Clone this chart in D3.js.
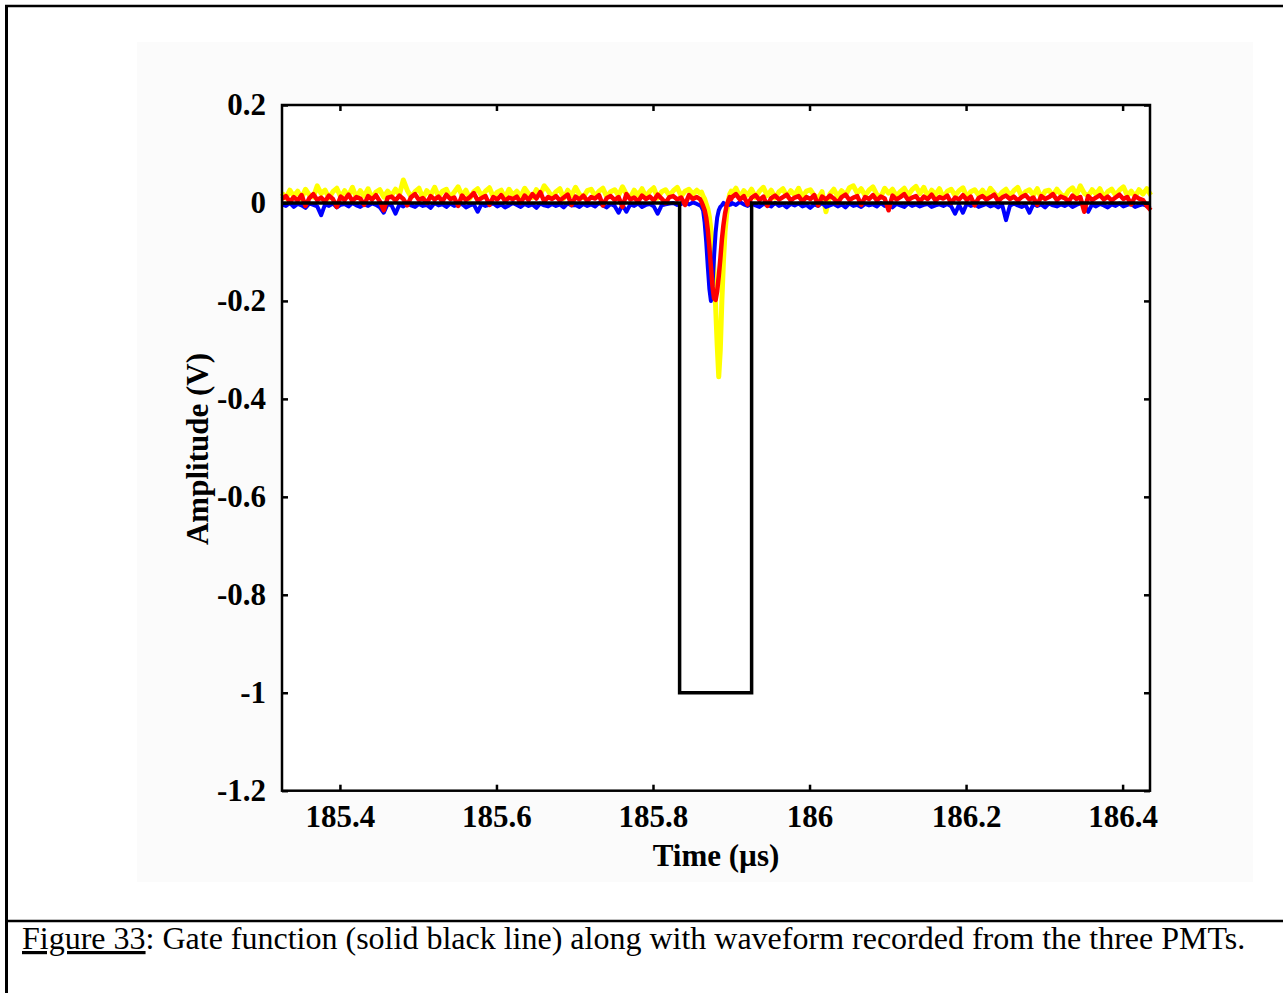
<!DOCTYPE html>
<html>
<head>
<meta charset="utf-8">
<script src="https://cdn.jsdelivr.net/npm/d3@7"></script>
<style>
  body { margin: 0; background: #fff; }
  svg { display: block; }
</style>
</head>
<body>
<svg width="1283" height="993"></svg>
<script>
// x axis ticks (time, µs) and y axis ticks (amplitude, V)
var xTicks = [185.4, 185.6, 185.8, 186, 186.2, 186.4];
var yTicks = [0.2, 0, -0.2, -0.4, -0.6, -0.8, -1, -1.2];

// scope samples: first time and spacing of the record (µs)
var sampleStart = 185.326;
var sampleStep = 0.005;

// baseline noise of each PMT, mV
var yellowMv = [
  20, 10, 26, 14, 24, 9, 28, 16, 12, 35,
  19, 26, 10, 23, 30, 12, 25, 15, 32, 11,
  25, 14, 29, 9, 22, 27, 12, 24, 15, 28,
  17, 47, 26, 12, 23, 30, 10, 25, 16, 32,
  13, 24, 28, 11, 22, 33, 15, 26, 9, 23,
  29, 14, 24, 31, 12, 22, 26, 10, 28, 16,
  24, 13, 30, 19, 11, 27, 16, 35, 25, 12,
  23, 29, 9, 26, 15, 32, 18, 11, 25, 28,
  14, 24, 30, 12, 23, 27, 15, 33, 18, 11,
  26, 16, 29, 13, 24, 31, 10, 23, 27, 15,
  25, 32, 14, 24, 28, 18, 26, 15, 20, 16,
  18, 22, 16, 20, 24, 19, 30, 12, 25, 16,
  28, 11, 24, 32, 15, 26, 10, 23, 29, 14,
  25, 16, 30, 12, 24, 27, 15, 9, 23, -18,
  18, 28, 13, 25, 16, 31, 35, 20, 29, 15,
  26, 33, 17, 12, 30, 20, 28, 14, 23, 30,
  16, 27, 34, 19, 32, 13, 26, 17, 29, 11,
  24, 28, 15, 25, 31, 12, 23, 27, 16, 26,
  14, 30, 20, 11, 22, 28, 15, 25, 32, 13,
  23, 27, 16, 29, 10, 24, 26, 15, 28, 18,
  12, 25, 31, 16, 35, 20, 14, 27, 18, 29,
  11, 23, 28, 16, 26, 33, 15, 24, 13, 27,
  18, 29, 16
];
var redMv = [
  8, 14, 2, 12, 5, 16, -6, 10, 18, 6,
  11, 3, 15, 8, -8, 13, 6, 17, 4, 12,
  9, -4, 14, 7, 16, 3, -15, 11, 13, 5,
  15, 8, -5, 12, 18, 6, 10, 0, 14, 7,
  13, 3, 17, 8, 11, -6, 15, 6, 12, 20,
  5, 10, 14, -4, 12, 7, 16, 4, 11, 8,
  13, 0, 15, 6, 18, 9, 22, 3, 12, 8,
  14, 5, 11, 17, -4, 13, 7, 15, 4, 12,
  9, 16, -5, 10, 14, 6, 12, -8, 18, 7,
  11, 3, 15, 8, 13, 5, 17, 9, 0, 12,
  14, 7, 11, -4, 16, 8, 12, 6, 3, 1,
  10, 13, 5, 11, 15, 12, 18, 7, 14, -3,
  11, 16, 6, 13, -6, 10, 15, 7, 12, 17,
  5, 11, 14, 3, 12, 8, 16, -5, 13, 7,
  15, 9, 0, 12, 17, 6, 11, 14, -4, 12,
  8, 16, 5, 13, 9, -15, 15, 7, 12, 18,
  6, 11, 14, 3, 13, 8, 17, 5, 12, 9,
  15, 0, 11, 7, 16, 6, 13, -5, 10, 14,
  7, 12, 17, 4, 11, 15, 8, 13, 5, 12,
  16, 7, 11, -4, 14, 8, 12, 18, 6, 13,
  10, 3, 15, 8, 12, -18, 14, 6, 11, 16,
  7, 13, 5, 11, 17, 8, 12, -3, 14, 9,
  6, -6, -15
];
var blueMv = [
  -3, -6, 0, -8, -2, -5, -10, -1, -4, -7,
  -25, -3, -6, -1, -9, -4, -2, -7, 0, -5,
  -8, -3, -6, -1, -4, -9, -20, -2, -5, -22,
  -3, -7, -1, -5, -8, -2, -6, -4, -10, 0,
  -5, -3, -8, -1, -6, -4, -2, -9, -5, -3,
  -18, -2, -6, -4, -1, -7, -3, -9, -5, 0,
  -4, -8, -2, -6, -3, -10, -1, -5, -7, -2,
  -6, -3, -9, -1, -5, -4, -8, -2, -6, -3,
  -7, 0, -5, -9, -2, -6, -20, -4, -18, -3,
  -6, -1, -8, -4, -2, -7, -22, -5, -3, -1,
  0, -4, -2, 2, -3, 1, -2, 0, -5, -10,
  -5, -8, -3, -6, -2, 0, -4, 2, -3, -6,
  -1, -5, -8, -2, -4, -7, 0, -6, -3, -9,
  -2, -5, -1, -7, -4, -10, -3, -6, 0, -8,
  -5, -2, -7, -3, -9, -1, -6, -4, -8, -2,
  -5, -3, -7, 0, -6, -4, -9, -2, -5, -8,
  -1, -6, -3, -7, -4, -2, -8, -5, -3, -6,
  -2, -7, -22, -4, -20, -1, -6, -3, -8, -5,
  -2, -7, -4, -9, -3, -35, -6, -1, -5, -8,
  -4, -20, -2, -6, -3, -9, -1, -5, -7, -3,
  -6, -2, -8, -4, -1, -5, -18, -3, -7, -2,
  -5, -9, -3, -6, -1, -7, -4, -2, -8, -5,
  -3, -6, -4
];

// the pulse itself, sampled finer
var pulseTimes = [185.860, 185.862, 185.864, 185.866, 185.868, 185.870, 185.872,
  185.874, 185.876, 185.878, 185.880, 185.882, 185.884, 185.886, 185.888,
  185.890, 185.892, 185.894, 185.896, 185.898, 185.900];
var yellowPulseMv = [20, 22, 14, 8, -2, -12, -28, -55, -90, -140, -210, -290, -355,
  -300, -200, -120, -60, -25, 2, 18, 24];
var redPulseMv = [8, 2, -6, -15, -30, -55, -90, -130, -170, -195, -198, -180, -150,
  -115, -75, -45, -22, -6, 4, 12, 8];
var bluePulseMv = [-5, -8, -15, -40, -80, -130, -175, -200, -170, -110, -60, -30, -15,
  -8, -5, 0, -3, -5, 2, -4, -3];

// gate function (black)
var gateTimes = [185.326, 185.834, 185.926, 186.435];
var gateValues = [0, -1, 0, 0];

var svg = d3.select("svg");

var margin = {left: 282, right: 1150, top: 105, bottom: 790.7};

var x = d3.scaleLinear().domain([185.326, 186.435]).range([margin.left, margin.right]);
var y = d3.scaleLinear().domain([-1.2, 0.2]).range([margin.bottom, margin.top]);

// page frame
svg.append("rect").attr("x", 137).attr("y", 42).attr("width", 1116).attr("height", 840)
  .attr("fill", "#fbfbfb");
svg.append("line").attr("x1", 6.5).attr("x2", 6.5).attr("y1", 5).attr("y2", 993)
  .attr("stroke", "#000").attr("stroke-width", 3);
svg.append("line").attr("x1", 5).attr("x2", 1283).attr("y1", 6).attr("y2", 6)
  .attr("stroke", "#000").attr("stroke-width", 2.5);
svg.append("line").attr("x1", 5).attr("x2", 1283).attr("y1", 921).attr("y2", 921)
  .attr("stroke", "#000").attr("stroke-width", 2.5);

// plot area
svg.append("rect").attr("x", margin.left).attr("y", margin.top)
  .attr("width", margin.right - margin.left).attr("height", margin.bottom - margin.top)
  .attr("fill", "#fff");

function buildSeries(noise, pulse) {
  var pts = [];
  noise.forEach(function(v, i) {
    var t = sampleStart + i * sampleStep;
    if (t < pulseTimes[0] || t > pulseTimes[pulseTimes.length - 1]) pts.push([t, v / 1000]);
  });
  pulse.forEach(function(v, i) { pts.push([pulseTimes[i], v / 1000]); });
  pts.sort(function(a, b) { return a[0] - b[0]; });
  return pts;
}

var traces = [
  {color: "#ffff00", width: 5, data: buildSeries(yellowMv, yellowPulseMv)},
  {color: "#0000ff", width: 4, data: buildSeries(blueMv, bluePulseMv)},
  {color: "#ff0000", width: 4.5, data: buildSeries(redMv, redPulseMv)}
];

var line = d3.line()
  .x(function(d) { return x(d[0]); })
  .y(function(d) { return y(d[1]); });

var plot = svg.append("g");

plot.selectAll(".trace")
  .data(traces)
  .enter().append("path")
  .attr("class", "trace")
  .attr("d", function(d) { return line(d.data); })
  .attr("fill", "none")
  .attr("stroke", function(d) { return d.color; })
  .attr("stroke-width", function(d) { return d.width; })
  .attr("stroke-linejoin", "round");

var gateLine = d3.line()
  .x(function(d) { return x(d[0]); })
  .y(function(d) { return y(d[1]); })
  .curve(d3.curveStepAfter);

plot.append("path")
  .attr("d", gateLine(gateTimes.map(function(t, i) { return [t, gateValues[i]]; })))
  .attr("fill", "none")
  .attr("stroke", "#000")
  .attr("stroke-width", 3.5);

// axes, ticks pointing inward on all four sides
var fmt = function(d) { return String(+d.toFixed(1)); };
var fontFam = "'Liberation Serif', 'Times New Roman', serif";

var xAxis = svg.append("g").attr("transform", "translate(0," + margin.bottom + ")")
  .call(d3.axisBottom(x).tickValues(xTicks).tickSizeInner(-6).tickSizeOuter(0).tickPadding(14).tickFormat(fmt));
var xTop = svg.append("g").attr("transform", "translate(0," + margin.top + ")")
  .call(d3.axisTop(x).tickValues(xTicks).tickSizeInner(-6).tickSizeOuter(0).tickFormat(""));
var yAxis = svg.append("g").attr("transform", "translate(" + margin.left + ",0)")
  .call(d3.axisLeft(y).tickValues(yTicks).tickSizeInner(-6).tickSizeOuter(0).tickPadding(16).tickFormat(fmt));
var yRight = svg.append("g").attr("transform", "translate(" + margin.right + ",0)")
  .call(d3.axisRight(y).tickValues(yTicks).tickSizeInner(-6).tickSizeOuter(0).tickFormat(""));

[xAxis, xTop, yAxis, yRight].forEach(function(a) {
  a.select(".domain").remove();
  a.selectAll(".tick line").attr("stroke", "#000").attr("stroke-width", 2.5);
  a.selectAll("text").attr("font-family", fontFam).attr("font-weight", "bold")
    .attr("font-size", 31).attr("fill", "#000");
});
xAxis.selectAll("text").attr("dy", "0.71em");

svg.append("rect").attr("x", margin.left).attr("y", margin.top)
  .attr("width", margin.right - margin.left).attr("height", margin.bottom - margin.top)
  .attr("fill", "none").attr("stroke", "#000").attr("stroke-width", 2.5);

// axis titles
svg.append("text")
  .attr("x", 716).attr("y", 866)
  .attr("text-anchor", "middle")
  .attr("font-family", fontFam).attr("font-weight", "bold").attr("font-size", 31)
  .text("Time (µs)");

svg.append("text")
  .attr("transform", "translate(208,449) rotate(-90)")
  .attr("text-anchor", "middle")
  .attr("font-family", fontFam).attr("font-weight", "bold").attr("font-size", 31)
  .text("Amplitude (V)");

// caption
var cap = svg.append("text")
  .attr("x", 22).attr("y", 949)
  .attr("font-family", fontFam).attr("font-size", 32);
cap.append("tspan").attr("text-decoration", "underline").text("Figure 33");
cap.append("tspan").text(": Gate function (solid black line) along with waveform recorded from the three PMTs.");
</script>
</body>
</html>
